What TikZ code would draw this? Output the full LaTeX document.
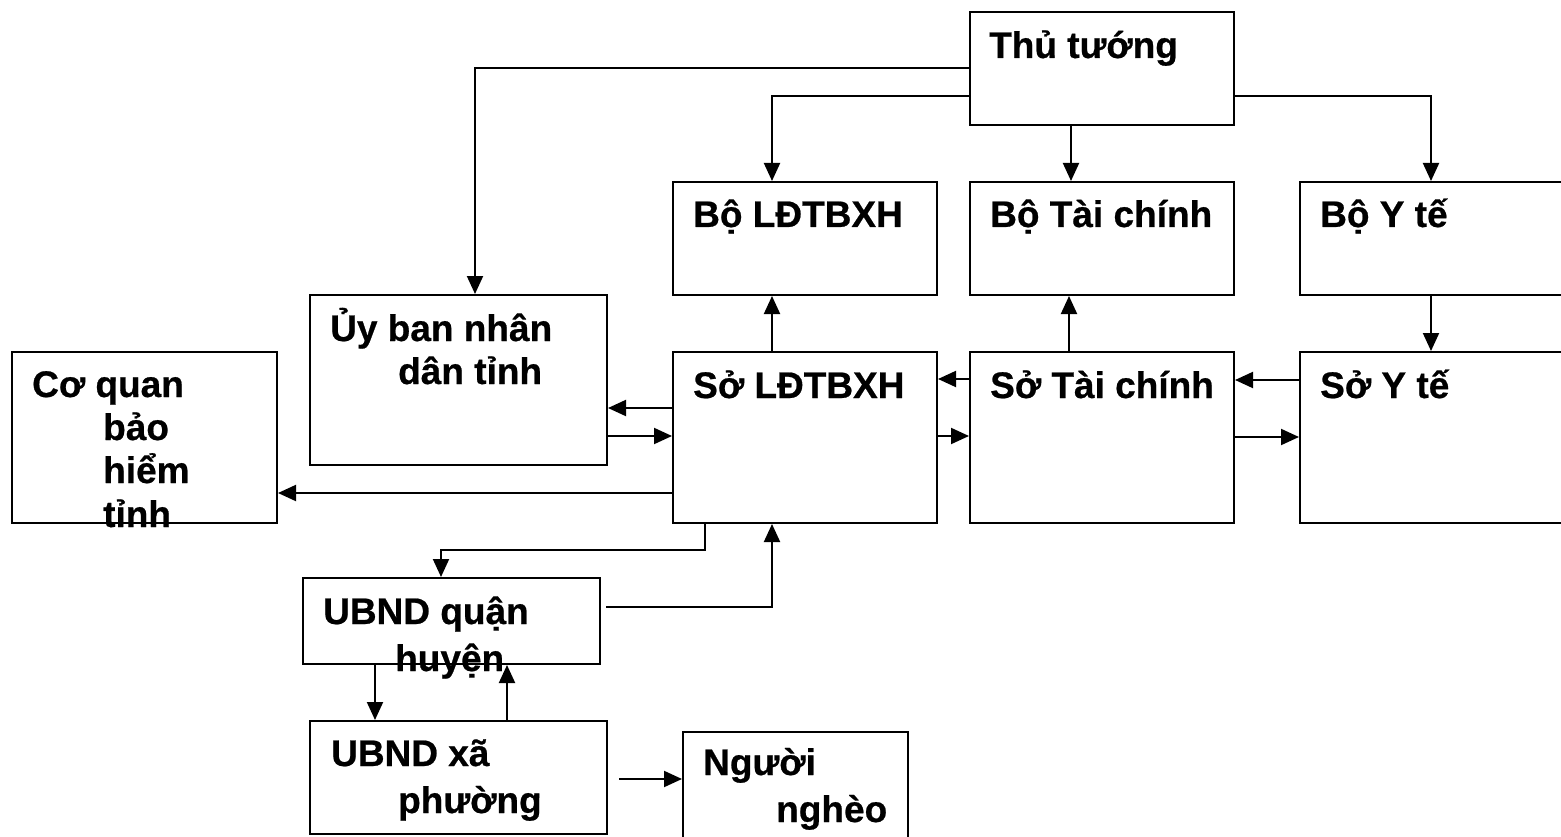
\documentclass[tikz,border=0pt]{standalone}
\usepackage{fontspec}
\setmainfont{Liberation Sans}
\newfontfamily\lblfont{Liberation Sans}[UprightFont=*-Bold, FakeBold=0.6]
\usetikzlibrary{arrows.meta,calc}

\tikzset{
  box/.style={draw, line width=2pt, rectangle, anchor=north west, inner sep=0pt, fill=white},
  lbl/.style={anchor=base west, inner sep=0pt, font=\lblfont\fontsize{37}{42}\selectfont},
  arr/.style={line width=2pt, -{Triangle[length=18pt,width=16pt]}},
}

\begin{document}
\begin{tikzpicture}[x=1pt,y=-1pt]
\useasboundingbox (0,0) rectangle (1561,837);
\fill[white] (0,0) rectangle (1561,837);
\clip (0,0) rectangle (1561,837);

% boxes: north-west corner, width, height
\node[box, minimum width=264, minimum height=113] (tt)  at (969,11)  {};
\node[box, minimum width=264, minimum height=113] (bld) at (672,181) {};
\node[box, minimum width=264, minimum height=113] (btc) at (969,181) {};
\node[box, minimum width=290, minimum height=113] (byt) at (1299,181) {};
\node[box, minimum width=297, minimum height=170] (ub)  at (309,294) {};
\node[box, minimum width=265, minimum height=171] (cq)  at (11,351)  {};
\node[box, minimum width=264, minimum height=171] (sld) at (672,351) {};
\node[box, minimum width=264, minimum height=171] (stc) at (969,351) {};
\node[box, minimum width=290, minimum height=171] (syt) at (1299,351) {};
\node[box, minimum width=297, minimum height=86]  (uq)  at (302,577) {};
\node[box, minimum width=297, minimum height=113] (ux)  at (309,720) {};
\node[box, minimum width=225, minimum height=130] (nn)  at (682,731) {};

% labels
\node[lbl] (ttt)  at (989,58)  {Thủ tướng};
\node[lbl] (tbld) at (693,227) {Bộ LĐTBXH};
\node[lbl] (tbtc) at (990,227) {Bộ Tài chính};
\node[lbl] (tbyt) at (1320,227) {Bộ Y tế};
\node[lbl] (tub1) at (330,341) {Ủy ban nhân};
\node[lbl] (tub2) at (398,384) {dân tỉnh};
\node[lbl] (tcq1) at (32,397)  {Cơ quan};
\node[lbl] (tcq2) at (103,440) {bảo};
\node[lbl] (tcq3) at (103,483) {hiểm};
\node[lbl] (tcq4) at (103,527) {tỉnh};
\node[lbl] (tsld) at (693,398) {Sở LĐTBXH};
\node[lbl] (tstc) at (990,398) {Sở Tài chính};
\node[lbl] (tsyt) at (1320,398) {Sở Y tế};
\node[lbl] (tuq1) at (323,624) {UBND quận};
\node[lbl] (tuq2) at (395,671) {huyện};
\node[lbl] (tux1) at (331,766) {UBND xã};
\node[lbl] (tux2) at (398,813) {phường};
\node[lbl] (tnn1) at (703,775) {Người};
\node[lbl] (tnn2) at (776,822) {nghèo};

% loose connector ends
\coordinate (uqout) at (606,607);
\coordinate (uxout) at (619,779);

% from the Prime Minister
\draw[arr] (tt.west |- 0,68) -| ([xshift=16.5pt]ub.north);
\draw[arr] (tt.west |- 0,96) -| ([xshift=-33pt]bld.north);
\draw[arr] ([xshift=-31pt]tt.south) -- ([xshift=-31pt]btc.north);
\draw[arr] (tt.east |- 0,96) -| (byt.north -| 1431,0);

% ministries and departments
\draw[arr] (byt.south -| 1431,0) -- (syt.north -| 1431,0);
\draw[arr] ([xshift=-33pt]sld.north) -- ([xshift=-33pt]bld.south);
\draw[arr] ([xshift=-33pt]stc.north) -- ([xshift=-33pt]btc.south);
\draw[arr] (stc.west |- 0,379) -- (sld.east |- 0,379);
\draw[arr] (sld.east |- 0,436) -- (stc.west |- 0,436);
\draw[arr] (syt.west |- 0,380) -- (stc.east |- 0,380);
\draw[arr] (stc.east |- 0,437) -- (syt.west |- 0,437);
\draw[arr] (sld.west |- 0,408) -- (ub.east |- 0,408);
\draw[arr] (ub.east |- 0,436) -- (sld.west |- 0,436);
\draw[arr] (sld.west |- 0,493) -- (cq.east |- 0,493);

% local levels
\draw[arr] (sld.south -| 705,0) |- (441,550) -- (uq.north -| 441,0);
\draw[arr] (uqout) -| ([xshift=-33pt]sld.south);
\draw[arr] (uq.south -| 375,0) -- (ux.north -| 375,0);
\draw[arr] (ux.north -| 507,0) -- (uq.south -| 507,0);
\draw[arr] (uxout) -- (nn.west |- 0,779);
\end{tikzpicture}
\end{document}
